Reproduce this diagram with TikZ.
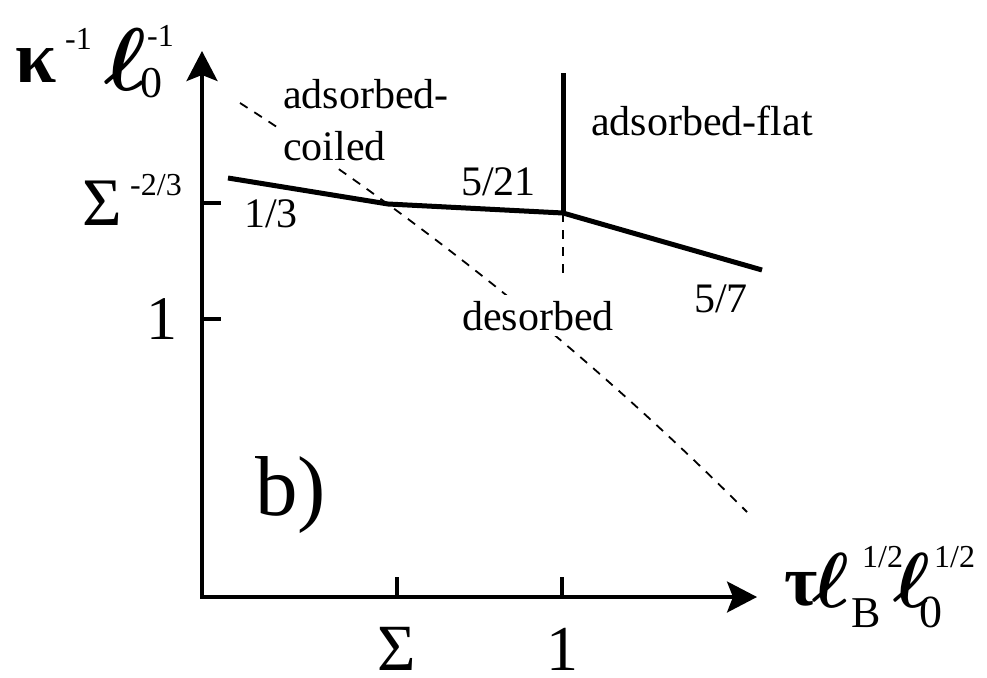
\documentclass[tikz,border=0pt]{standalone}
\usepackage{amsmath}
\usepackage{graphicx}
\usepackage{fontspec}
\setmainfont{Liberation Serif}
\usetikzlibrary{arrows.meta}

\newcommand{\fsz}[1]{\fontsize{#1}{#1}\selectfont}
\newcommand{\bell}[1]{\scalebox{#1}{$\boldsymbol{\ell}$}}

\begin{document}
\begin{tikzpicture}[
  x=1pt, y=-1pt,
  >={Stealth[length=30pt, width=31pt, inset=6pt]},
  word/.style={font=\fsz{#1}, inner sep=0pt, anchor=base west},
  word/.default=42,
  mask/.style={word, fill=white, inner sep=6pt},
  axis/.style={line width=3.3pt},
  curve/.style={line width=5pt, line join=round},
  guide/.style={line width=1.8pt, dash pattern=on 9pt off 8pt}
]
\useasboundingbox (0,0) rectangle (987,677);

% ---------- Axes ----------
\coordinate (ytip) at (202,51);
\coordinate (xtip) at (757,597);
\draw[axis, <->] (ytip) |- (xtip);
\foreach \yy in {203,319}
  \draw[axis] (202,\yy) -- ++(19,0);
\foreach \xx in {397,562}
  \draw[axis] (\xx,597) -- ++(0,-20);

% ---------- Boundaries ----------
\coordinate (p1) at (228,178);
\coordinate (p2) at (388,204);
\coordinate (p3) at (563,213);
\coordinate (p4) at (762,270);
\coordinate (p5) at (563,73);
\coordinate (p6) at (563,277);
\coordinate (d1) at (240,103);
\coordinate (d2) at (747,512);
\draw[guide] (d1) .. controls (421,219) and (590,355) .. (d2);
\draw[guide] (p3) -- (p6);
\draw[curve] (p1) -- (p2) -- (p3) -- (p4);
\draw[curve] (p3) -- (p5);

% ---------- Regions and slopes ----------
\node[word] (adc) at (283,108) {adsorbed-};
\node[mask] (coil) at (277,160) {coiled};
\node[word] (adf) at (591,135) {adsorbed-flat};
\node[mask] (des) at (456,330) {desorbed};
\node[word] (s1) at (244,227) {1/3};
\node[word] (s2) at (461,195) {5/21};
\node[word] (s3) at (694,312) {5/7};
\node[word=85] (pan) at (255,515) {b)};

% ---------- Ticks ----------
\node[word=62] (ty1) at (146,339) {1};
\node[word=68] (tyS) at (82,225) {Σ};
\node[word=32] (tySe) at (130,195) {-2/3};
\node[word=66, anchor=base] (txS) at (397,670) {Σ};
\node[word=64, anchor=base] (tx1) at (562,670) {1};

% ---------- Axis labels ----------
\node[word=74] (yk) at (15,82) {\bfseries κ};
\node[word=32] (yke) at (65,50) {-1};
\node[word=10] (yl) at (104,90) {\bell{8.9}};
\node[word=44] (yls) at (140,97) {0};
\node[word=32] (yle) at (147,47) {-1};
\node[word=72] (xt) at (784,605) {\bfseries τ};
\node[word=10] (xl1) at (812,607) {\bell{7.8}};
\node[word=44] (xl1s) at (851,627) {B};
\node[word=32] (xl1e) at (862,567) {1/2};
\node[word=10] (xl2) at (893,607) {\bell{7.8}};
\node[word=46] (xl2s) at (919,627) {0};
\node[word=32] (xl2e) at (934,567) {1/2};

\end{tikzpicture}
\end{document}
